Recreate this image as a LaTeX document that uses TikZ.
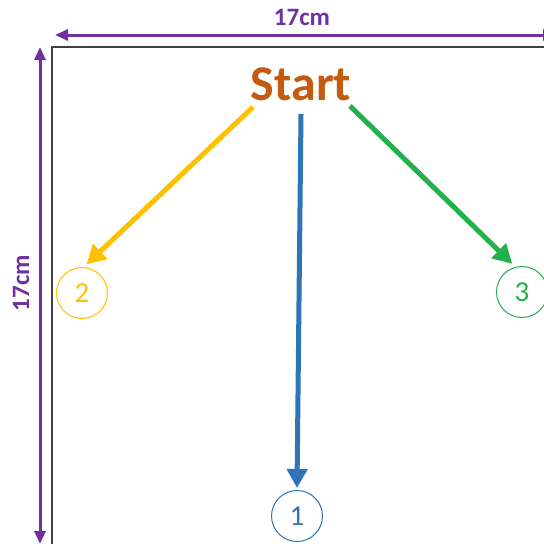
\documentclass[tikz,border=0pt]{standalone}
\usepackage{fontspec}
\setmainfont{Carlito}
\usetikzlibrary{arrows.meta}
\definecolor{startc}{HTML}{C55A11}
\definecolor{yel}{HTML}{FFC000}
\definecolor{blu}{HTML}{2E75B6}
\definecolor{grn}{HTML}{22B14C}
\definecolor{pur}{HTML}{7030A0}
\tikzset{
  numc/.style={circle, draw, line width=1pt, minimum size=51pt, inner sep=0pt, font=\fontsize{29}{29}\selectfont},
  fat/.style={line width=5pt, -{Triangle[length=19pt,width=20pt]}},
  dim/.style={pur, line width=3pt, {Triangle[length=13pt,width=11pt]}-{Triangle[length=13pt,width=11pt]}},
  dimlab/.style={pur, font=\bfseries\fontsize{25}{25}\selectfont}
}
\begin{document}
\begin{tikzpicture}[x=1pt,y=-1pt]
\useasboundingbox (0,0) rectangle (544,544);
\fill[white] (0,0) rectangle (544,544);
% square
\coordinate (sq) at (52,47);
\coordinate (sqr) at (560,47);
\coordinate (sqb) at (52,560);
\draw[black!75, line width=1.2pt] (sqr) -- (sq) -- (sqb);
% dimension arrows
\coordinate (hl) at (55,35);
\coordinate (hr) at (556,35);
\draw[dim] (hl) -- (hr);
\coordinate (vt) at (40,47);
\coordinate (vb) at (40,544);
\draw[dim] (vt) -- (vb);
\node[dimlab] (lt) at (302,17) {17cm};
\node[dimlab, rotate=90] (ll) at (21,283) {17cm};
% start
\node[text=startc, font=\bfseries\fontsize{50}{50}\selectfont] (start) at (301,84) {Start};
% circles
\node[numc, draw=yel, text=yel] (c2) at (82,293) {2};
\node[numc, draw=grn, text=grn] (c3) at (522,292) {3};
\node[numc, draw=blu, text=blu] (c1) at (297,516) {1};
% arrows
\coordinate (ya) at (253,107);
\coordinate (ba) at (301,114);
\coordinate (ga) at (350,106);
\draw[fat, yel] (ya) -- ([yshift=3pt]c2.80);
\draw[fat, blu] (ba) -- ([yshift=2pt]c1.north);
\draw[fat, grn] (ga) -- ([yshift=4pt]c3.112);
\end{tikzpicture}
\end{document}
